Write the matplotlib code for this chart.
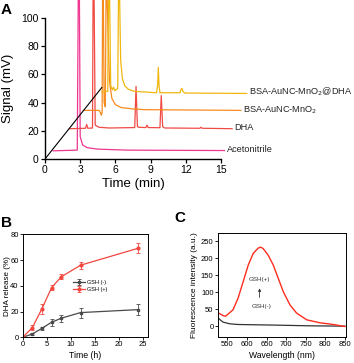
import numpy as np
import matplotlib
matplotlib.use("Agg")
import matplotlib.pyplot as plt

plt.rcParams['font.family'] = ['Liberation Sans', 'DejaVu Sans']

# --- Panel A: stacked chromatograms ---
acn_t = [0.7, 2.75, 2.84, 2.93, 3.0, 3.2, 3.6, 4.5, 7.0, 15.3]
acn_y = [5.8, 6.3, 120, 120, 16, 10, 8, 7, 6.3, 6.0]

dha_t = [2.08, 3.45, 3.55, 3.65, 4.05, 4.1, 4.18, 4.28, 4.6, 5.5, 7.65, 7.76, 7.88, 8.0,
         8.6, 8.7, 8.8, 9.8, 9.91, 10.03, 10.2, 13.2, 13.3, 13.4, 15.95]
dha_y = [21.5, 21.8, 24.5, 21.8, 22.0, 120, 120, 24, 22.5, 22.0, 22.3, 51.5, 23, 22.5,
         22.3, 24, 22.3, 22.2, 45, 23, 22.0, 21.8, 22.5, 21.8, 21.5]

mno2_t = [3.28, 4.6, 4.72, 4.8, 4.87, 4.91, 4.97, 5.04, 5.14, 5.21, 5.28, 5.4, 5.5, 5.7,
          6.0, 6.5, 7.5, 7.7, 7.8, 7.9, 8.5, 16.7]
mno2_y = [34.5, 34.5, 33, 31, 33, 120, 120, 40, 37, 120, 120, 80, 55, 43,
          38.5, 36.5, 35.5, 35.3, 36, 35.3, 35.0, 34.5]

mdha_t = [4.84, 5.35, 5.42, 5.5, 5.6, 5.75, 5.84, 5.95, 6.2, 6.27, 6.35, 6.45, 6.6, 6.8,
          7.1, 7.6, 9.5, 9.6, 9.66, 9.72, 9.8, 11.5, 11.6, 11.68, 11.76, 11.9, 17.2]
mdha_y = [47.5, 48, 120, 120, 52, 49, 51, 48.5, 50, 120, 120, 70, 57, 52,
          49.5, 48, 47, 52, 65, 52, 47, 47, 49.5, 50, 48, 46.8, 46.5]

traces = [
    (acn_t, acn_y, '#ee3592', 'Acetonitrile', 15.5, 6.4),
    (dha_t, dha_y, '#f04a45', 'DHA', 16.1, 22.2),
    (mno2_t, mno2_y, '#f68b1f', 'BSA-AuNC-MnO$_2$', 16.9, 35.2),
    (mdha_t, mdha_y, '#f0b70f', 'BSA-AuNC-MnO$_2$@DHA', 17.4, 47.5),
]

# --- Panel B: DHA release ---
rel_t = [0, 2, 4, 6, 8, 12, 24]
gsh_minus = [0, 2.6, 7.0, 11.7, 14.8, 19.2, 21.5]
gsh_minus_err = [0, 1.0, 1.2, 2.8, 2.6, 3.9, 4.5]
gsh_plus = [0, 7.5, 22.3, 38.6, 47.0, 56.0, 69.2]
gsh_plus_err = [0, 2.2, 3.9, 2.2, 2.0, 2.6, 3.9]

# --- Panel C: fluorescence spectra ---
wl_plus = [523, 538.7, 545, 564, 577, 590, 603, 615.6, 628.5, 634.6, 641, 654, 667,
           679.7, 692.6, 709.7, 726.8, 752.5, 786, 820.5, 846, 850]
fl_plus = [42, 32, 30, 48.7, 83, 131, 180, 214, 230, 232.5, 228.7, 209, 180,
           141, 102, 63, 39, 19.5, 10.8, 5.8, 0.5, 0]
wl_minus = [523, 538.7, 555.8, 577, 676, 761, 846, 850]
fl_minus = [27.4, 12.7, 7.8, 5.8, 3.9, 1.9, 1.0, 1.0]

fig = plt.figure(figsize=(3.54, 3.63), dpi=100)

# Panel A
axA = fig.add_axes([45 / 354, 204 / 363, 309 / 354, 159 / 363])
for t, y, c, name, lx, ly in traces:
    axA.plot(t, y, color=c, lw=0.9)
    axA.text(lx, ly, name, color='#222222', fontsize=6.6, va='center', ha='left')
axA.plot([0, 4.84], [0, 50.7], color='black', lw=0.8)
axA.set_xlim(0, 309 / 11.73)
axA.set_ylim(0, 112.8)
axA.spines['top'].set_visible(False)
axA.spines['right'].set_visible(False)
axA.spines['bottom'].set_bounds(0, 15)
axA.spines['left'].set_bounds(0, 100)
axA.spines['bottom'].set_linewidth(1.0)
axA.spines['left'].set_linewidth(1.0)
axA.set_xticks([0, 3, 6, 9, 12, 15])
axA.set_yticks([0, 20, 40, 60, 80, 100])
axA.tick_params(direction='out', length=3, width=0.9, labelsize=7.5, pad=1.5)
axA.set_xlabel('Time (min)', fontsize=9.5)
axA.xaxis.set_label_coords((133 - 45) / 309, -(178 - 159) / 159)
axA.set_ylabel('Signal (mV)', fontsize=9.5)
axA.yaxis.set_label_coords((14 - 45) / 309, (159 - 88) / 159)

# Panel B
axB = fig.add_axes([22.7 / 354, 25.7 / 363, 125.3 / 354, 103 / 363])
axB.errorbar(rel_t, gsh_minus, yerr=gsh_minus_err, color='#4a4a4a', marker='s', ms=2,
             lw=0.9, elinewidth=0.6, capsize=1.2, capthick=0.6, label='GSH (-)')
axB.errorbar(rel_t, gsh_plus, yerr=gsh_plus_err, color='#f2473f', marker='o', ms=2,
             lw=0.9, elinewidth=0.6, capsize=1.2, capthick=0.6, label='GSH (+)')
axB.set_xlim(0, 26)
axB.set_ylim(0, 80)
axB.set_xticks([0, 5, 10, 15, 20, 25])
axB.set_yticks([0, 20, 40, 60, 80])
axB.tick_params(direction='out', length=2, width=0.6, labelsize=5.5, pad=1)
for s in axB.spines.values():
    s.set_linewidth(0.7)
axB.set_xlabel('Time (h)', fontsize=6.3, labelpad=2)
axB.set_ylabel('DHA release (%)', fontsize=5.8)
axB.yaxis.set_label_coords((11.3 - 22.7) / 125.3, 0.5)
axB.legend(loc='center left', bbox_to_anchor=(0.36, 0.5), fontsize=4, frameon=False,
           handlelength=2.2, handletextpad=0.3, labelspacing=0.35)

# Panel C
axC = fig.add_axes([217.7 / 354, 26.3 / 363, 128 / 354, 104 / 363])
axC.plot(wl_minus, fl_minus, color='#333333', lw=0.9)
axC.plot(wl_plus, fl_plus, color='#ff2d1f', lw=1.0)
axC.set_xlim(525, 852)
axC.set_ylim(-30, 275)
axC.set_xticks([550, 600, 650, 700, 750, 800, 850])
axC.set_yticks([0, 50, 100, 150, 200, 250])
axC.tick_params(direction='out', length=2, width=0.6, labelsize=5.5, pad=1)
for s in axC.spines.values():
    s.set_linewidth(0.7)
axC.set_xlabel('Wavelength (nm)', fontsize=6.2, labelpad=2)
axC.set_ylabel('Fluorescence intensity (a.u.)', fontsize=6, labelpad=2)
axC.text(632, 139, 'GSH(+)', fontsize=4.5, ha='center', va='center', color='#333333')
axC.text(636, 58, 'GSH(-)', fontsize=4.5, ha='center', va='center', color='#333333')
axC.annotate('', xy=(632, 120), xytext=(632, 77),
             arrowprops=dict(arrowstyle='-|>', color='#333333', lw=0.6, mutation_scale=4))

# panel letters
fig.text(0.002, 0.992, 'A', fontsize=11, fontweight='bold', va='top', ha='left')
fig.text(0.002, 0.405, 'B', fontsize=11, fontweight='bold', va='top', ha='left')
fig.text(0.493, 0.418, 'C', fontsize=11, fontweight='bold', va='top', ha='left')

fig.savefig('out.png', dpi=100)
